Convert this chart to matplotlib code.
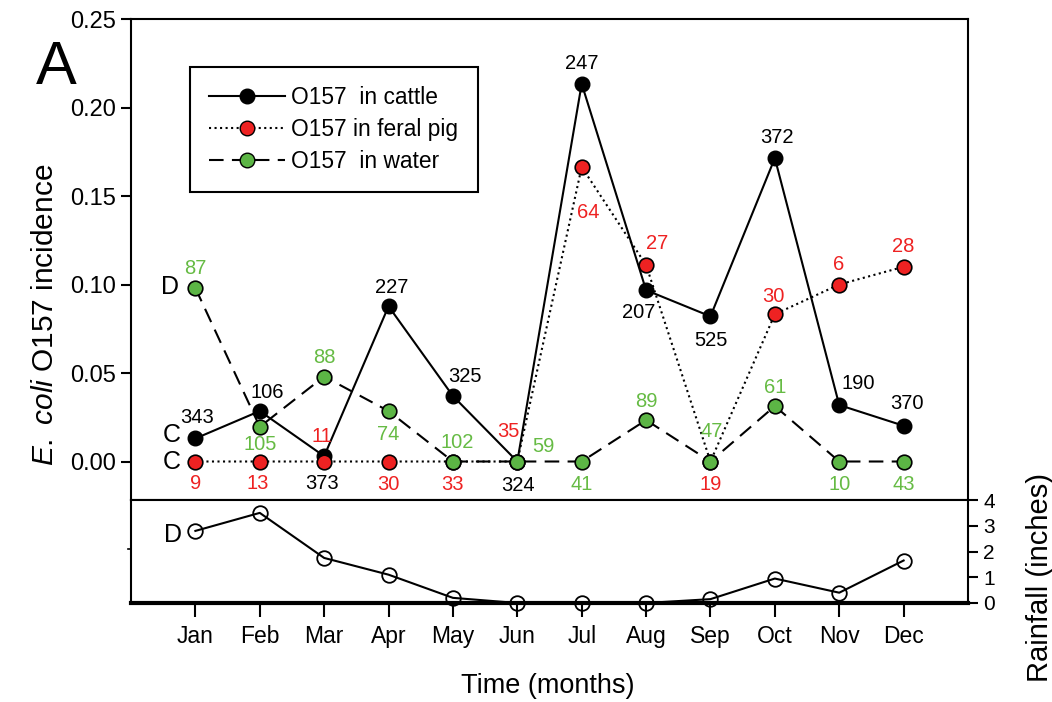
import matplotlib
matplotlib.use("Agg")
import matplotlib.pyplot as plt
from matplotlib.lines import Line2D

plt.rcParams['font.family'] = ['Liberation Sans', 'DejaVu Sans']
plt.rcParams['mathtext.fontset'] = 'custom'
plt.rcParams['mathtext.it'] = 'Liberation Sans:italic'
plt.rcParams['mathtext.rm'] = 'Liberation Sans'

# ---------------- data ----------------
months = ["Jan", "Feb", "Mar", "Apr", "May", "Jun", "Jul", "Aug", "Sep", "Oct", "Nov", "Dec"]
cattle = [0.013, 0.0285, 0.003, 0.0877, 0.037, 0.0, 0.2134, 0.0968, 0.082, 0.1714, 0.0319, 0.0202]
pig = [0.0, 0.0, 0.0, 0.0, 0.0, 0.0, 0.1664, 0.111, 0.0, 0.0832, 0.100, 0.110]
water = [0.098, 0.0196, 0.048, 0.0285, 0.0, 0.0, 0.0, 0.0234, 0.0, 0.0313, 0.0, 0.0]
rainfall = [2.8, 3.5, 1.75, 1.1, 0.2, 0.0, 0.0, 0.0, 0.15, 0.95, 0.4, 1.65]
n_cattle = ["343", "106", "373", "227", "325", "324", "247", "207", "525", "372", "190", "370"]
n_pig = ["9", "13", "11", "30", "33", "35", "64", "27", "19", "30", "6", "28"]
n_water = ["87", "105", "88", "74", "102", "59", "41", "89", "47", "61", "10", "43"]
legend_labels = ["O157  in cattle", "O157 in feral pig", "O157  in water"]
incidence_ticks = [0.00, 0.05, 0.10, 0.15, 0.20, 0.25]
rain_ticks = [0, 1, 2, 3, 4]

# label offsets (pixels) relative to each point
off_cattle = [(2, 21), (7, 19), (-2, -27), (3, 19), (12, 20), (1, -24),
              (0, 20), (-7, -22), (0, -24), (2, 21), (19, 22), (3, 22)]
off_pig = [(0, -22), (-2, -22), (-2, 25), (0, -23), (0, -23), (-9, 30),
           (7, -46), (11, 22), (0, -23), (-1, 18), (-1, 20), (0, 20)]
off_water = [(0, 20), (0, -18), (0, 19), (0, -23), (4, 19), (26, 15),
             (0, -23), (0, 19), (1, 30), (0, 19), (0, -23), (0, -23)]

RED = '#ee2222'
GREEN = '#5cb545'
GREEN_TXT = '#66bb44'

W, H = 1052, 702
fig = plt.figure(figsize=(W / 100, H / 100), dpi=100)

def box(l, r, t, b):
    return [l / W, (H - b) / H, (r - l) / W, (b - t) / H]

ax = fig.add_axes(box(131, 968, 19, 500))
ax2 = fig.add_axes(box(131, 968, 500, 603))

x = list(range(1, 13))
MS = 10.5

ax.plot(x, cattle, '-', color='black', lw=1.5, marker='o', ms=MS,
        mfc='black', mec='black', zorder=3, clip_on=False)
ax.plot(x, pig, ':', color='black', lw=1.5, marker='o', ms=MS,
        mfc=RED, mec='black', mew=1.2, zorder=4, clip_on=False)
ax.plot(x, water, color='black', lw=1.5, dashes=(7, 4), marker='o', ms=MS,
        mfc=GREEN, mec='black', mew=1.2, zorder=5, clip_on=False)

fs_lab = 14.5
for xi, yi, t, o in zip(x, cattle, n_cattle, off_cattle):
    ax.annotate(t, (xi, yi), xytext=o, textcoords='offset pixels',
                ha='center', va='center', fontsize=fs_lab, color='black', zorder=6)
for xi, yi, t, o in zip(x, pig, n_pig, off_pig):
    ax.annotate(t, (xi, yi), xytext=o, textcoords='offset pixels',
                ha='center', va='center', fontsize=fs_lab, color=RED, zorder=6)
for xi, yi, t, o in zip(x, water, n_water, off_water):
    ax.annotate(t, (xi, yi), xytext=o, textcoords='offset pixels',
                ha='center', va='center', fontsize=fs_lab, color=GREEN_TXT, zorder=6)

ax.set_xlim(0, 13)
ax.set_ylim(-0.02175, 0.25)
ax.set_yticks(incidence_ticks)
ax.set_yticklabels([f"{v:.2f}" for v in incidence_ticks])
ax.set_xticks([])
ax.tick_params(axis='y', direction='out', length=7, width=1.5, labelsize=17, pad=4)
for s in ax.spines.values():
    s.set_linewidth(1.5)

handles = [
    Line2D([], [], color='black', lw=1.5, ls='-', marker='o', ms=MS, mfc='black', mec='black'),
    Line2D([], [], color='black', lw=1.5, ls=':', marker='o', ms=MS, mfc=RED, mec='black'),
    Line2D([], [], color='black', lw=1.5, dashes=(7, 4), marker='o', ms=MS, mfc=GREEN, mec='black'),
]
leg = ax.legend(handles, legend_labels, loc='upper left',
                bbox_to_anchor=((190 - 131) / 837, (500 - 67) / 481),
                borderaxespad=0, fancybox=False, fontsize=16.4, frameon=True,
                handlelength=3.3, handletextpad=0.3, labelspacing=0.38,
                borderpad=0.85, framealpha=1)
leg.get_frame().set_edgecolor('black')
leg.get_frame().set_linewidth(1.5)

# rainfall panel
ax2.plot(x, rainfall, '-', color='black', lw=1.5, marker='o', ms=MS,
         mfc='none', mec='black', mew=1.3, clip_on=False, zorder=3)
ax2.set_xlim(0, 13)
ax2.set_ylim(0, 4)
ax2.set_xticks(x)
ax2.set_xticklabels(months)
ax2.tick_params(axis='x', direction='out', length=10, width=1.5, labelsize=16.5, pad=6)
ax2.yaxis.tick_right()
ax2.set_yticks(rain_ticks)
ax2.tick_params(axis='y', direction='out', length=7, width=1.5, labelsize=15, pad=4)
for s in ax2.spines.values():
    s.set_linewidth(1.5)
ax2.spines['bottom'].set_linewidth(3)

# stray left tick on the rainfall panel
ax2.plot([-0.04, 0], [2.1, 2.1], color='black', lw=1.2, clip_on=False)

# texts
fig.text(45 / W, 1 - 315 / H, r"$\it{E.\ coli}$ O157 incidence", rotation=90,
         ha='center', va='center', fontsize=21.5)
fig.text(1040 / W, 1 - 578 / H, "Rainfall (inches)", rotation=90,
         ha='center', va='center', fontsize=21)
fig.text(548 / W, 1 - 686 / H, "Time (months)", ha='center', va='center', fontsize=19.5)
fig.text(56 / W, 1 - 68 / H, "A", ha='center', va='center', fontsize=44)
fig.text(170 / W, 1 - 287 / H, "D", ha='center', va='center', fontsize=18)
fig.text(172 / W, 1 - 435 / H, "C", ha='center', va='center', fontsize=18)
fig.text(172 / W, 1 - 462 / H, "C", ha='center', va='center', fontsize=18)
fig.text(173 / W, 1 - 535 / H, "D", ha='center', va='center', fontsize=18)

fig.savefig("out.png", dpi=100)
